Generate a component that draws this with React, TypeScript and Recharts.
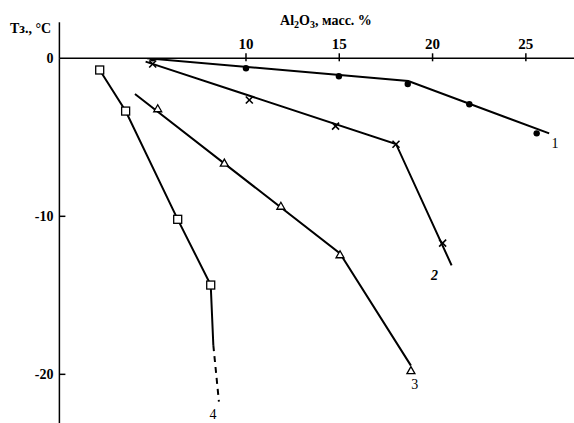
import React from 'react';
import { ComposedChart, Line, Scatter, XAxis, YAxis, ReferenceLine } from 'recharts';

// Axis ticks
const xTicks = [10, 15, 20, 25];
const yTicks = [0, -10, -20];

// Measured points (Al2O3, mass %; freezing temperature, °C)
const points1 = [
  { x: 5.0, y: 0 },
  { x: 10.0, y: -0.63 },
  { x: 14.98, y: -1.14 },
  { x: 18.67, y: -1.63 },
  { x: 21.97, y: -2.91 },
  { x: 25.58, y: -4.75 },
];
const points2 = [
  { x: 5.0, y: -0.36 },
  { x: 10.18, y: -2.64 },
  { x: 14.8, y: -4.29 },
  { x: 18.04, y: -5.44 },
  { x: 20.54, y: -11.7 },
];
const points3 = [
  { x: 5.27, y: -3.16 },
  { x: 8.84, y: -6.6 },
  { x: 11.87, y: -9.33 },
  { x: 15.04, y: -12.4 },
  { x: 18.84, y: -19.73 },
];
const points4 = [
  { x: 2.16, y: -0.74 },
  { x: 3.55, y: -3.34 },
  { x: 6.34, y: -10.19 },
  { x: 8.11, y: -14.35 },
];

// Fitted broken lines
const fit1 = [
  { x: 4.7, y: 0 },
  { x: 18.7, y: -1.44 },
  { x: 26.25, y: -4.75 },
];
const fit2 = [
  { x: 4.62, y: -0.21 },
  { x: 18.04, y: -5.42 },
  { x: 21.02, y: -13.1 },
];
const fit3 = [
  { x: 4.05, y: -2.26 },
  { x: 15.04, y: -12.35 },
  { x: 18.84, y: -19.45 },
];
const fit4 = [
  { x: 2.16, y: -0.74 },
  { x: 3.55, y: -3.34 },
  { x: 6.34, y: -10.19 },
  { x: 8.11, y: -14.35 },
  { x: 8.25, y: -18.15 },
];
const fit4Extrapolated = [
  { x: 8.25, y: -18.15 },
  { x: 8.55, y: -21.73 },
];

// Curve numbers
const curveLabels = [
  { x: 26.56, y: -5.7, text: '1', italic: false },
  { x: 20.1, y: -14.0, text: '2', italic: true },
  { x: 19.05, y: -20.9, text: '3', italic: false },
  { x: 8.23, y: -22.85, text: '4', italic: false },
];

const FONT = '"Liberation Serif", "Times New Roman", serif';
const INK = '#000';

const XTick = (props: any) => {
  const { x, y, payload } = props;
  return (
    <g>
      <line x1={x} x2={x} y1={y - 5} y2={y + 3} stroke={INK} strokeWidth={1.5} />
      <text x={x} y={y - 9} textAnchor="middle" fontFamily={FONT} fontWeight="bold" fontSize={15} fill={INK}>
        {payload.value}
      </text>
    </g>
  );
};

const YTick = (props: any) => {
  const { x, y, payload } = props;
  return (
    <g>
      {payload.value !== 0 && (
        <line x1={x} x2={x + 6} y1={y} y2={y} stroke={INK} strokeWidth={1.5} />
      )}
      <text x={x - 6} y={y + 5} textAnchor="end" fontFamily={FONT} fontWeight="bold" fontSize={14} fill={INK}>
        {payload.value}
      </text>
    </g>
  );
};

const Dot = (props: any) => <circle cx={props.cx} cy={props.cy} r={3.2} fill={INK} />;

const Cross = (props: any) => {
  const { cx, cy } = props;
  const s = 3.5;
  return (
    <g stroke={INK} strokeWidth={1.6}>
      <line x1={cx - s} y1={cy - s} x2={cx + s} y2={cy + s} />
      <line x1={cx - s} y1={cy + s} x2={cx + s} y2={cy - s} />
    </g>
  );
};

const Triangle = (props: any) => {
  const { cx, cy } = props;
  const h = 7;
  const w = 8;
  return (
    <polygon
      points={`${cx},${cy - h / 2} ${cx - w / 2},${cy + h / 2} ${cx + w / 2},${cy + h / 2}`}
      fill="#fff"
      stroke={INK}
      strokeWidth={1.3}
    />
  );
};

const Square = (props: any) => {
  const { cx, cy } = props;
  return <rect x={cx - 4} y={cy - 4} width={8} height={8} fill="#fff" stroke={INK} strokeWidth={1.3} />;
};

const CurveNumber = (props: any) => {
  const { cx, cy, payload } = props;
  return (
    <text
      x={cx}
      y={cy}
      textAnchor="middle"
      fontFamily={FONT}
      fontSize={14}
      fontStyle={payload.italic ? 'italic' : 'normal'}
      fontWeight={payload.italic ? 'bold' : 'normal'}
      fill={INK}
    >
      {payload.text}
    </text>
  );
};

const XTitle = () => (
  <text x={326} y={25} textAnchor="middle" fontFamily={FONT} fontWeight="bold" fontSize={14} fill={INK}>
    Al<tspan fontSize={10} dy={3}>2</tspan>
    <tspan dy={-3}>O</tspan>
    <tspan fontSize={10} dy={3}>3</tspan>
    <tspan dy={-3}>, масс. %</tspan>
  </text>
);

const YTitle = () => (
  <text x={10} y={33} textAnchor="start" fontFamily={FONT} fontWeight="bold" fontSize={14} fill={INK}>
    Tз., °C
  </text>
);

export default function App() {
  return (
    <div style={{ position: 'absolute', left: 0, top: 0, background: '#fff' }}>
      <ComposedChart
        width={574}
        height={423}
        margin={{ top: 28.3, right: 0, bottom: 0, left: 9.4 }}
      >
        <XAxis
          type="number"
          dataKey="x"
          orientation="top"
          domain={[0, 27.58]}
          ticks={xTicks}
          allowDataOverflow
          height={30}
          tickSize={0}
          tickMargin={0}
          tickLine={false}
          tick={<XTick />}
          axisLine={{ stroke: INK, strokeWidth: 1.5 }}
          label={{ content: <XTitle /> }}
        />
        <YAxis
          type="number"
          dataKey="y"
          domain={[-23.08, 0]}
          ticks={yTicks}
          allowDataOverflow
          width={50}
          tickSize={0}
          tickMargin={0}
          tickLine={false}
          tick={<YTick />}
          axisLine={{ stroke: INK, strokeWidth: 1.5 }}
          label={{ content: <YTitle /> }}
        />
        <ReferenceLine
          segment={[{ x: 0, y: 0 }, { x: 0, y: 2.28 }]}
          ifOverflow="visible"
          stroke={INK}
          strokeWidth={1.5}
        />

        <Line data={fit1} dataKey="y" type="linear" stroke={INK} strokeWidth={2} dot={false} isAnimationActive={false} />
        <Line data={fit2} dataKey="y" type="linear" stroke={INK} strokeWidth={2} dot={false} isAnimationActive={false} />
        <Line data={fit3} dataKey="y" type="linear" stroke={INK} strokeWidth={2} dot={false} isAnimationActive={false} />
        <Line data={fit4} dataKey="y" type="linear" stroke={INK} strokeWidth={2} dot={false} isAnimationActive={false} />
        <Line
          data={fit4Extrapolated}
          dataKey="y"
          type="linear"
          stroke={INK}
          strokeWidth={2}
          strokeDasharray="6 5"
          dot={false}
          isAnimationActive={false}
        />

        <Scatter data={points1} dataKey="y" shape={<Dot />} isAnimationActive={false} />
        <Scatter data={points2} dataKey="y" shape={<Cross />} isAnimationActive={false} />
        <Scatter data={points3} dataKey="y" shape={<Triangle />} isAnimationActive={false} />
        <Scatter data={points4} dataKey="y" shape={<Square />} isAnimationActive={false} />
        <Scatter data={curveLabels} dataKey="y" shape={<CurveNumber />} isAnimationActive={false} />
      </ComposedChart>
    </div>
  );
}
